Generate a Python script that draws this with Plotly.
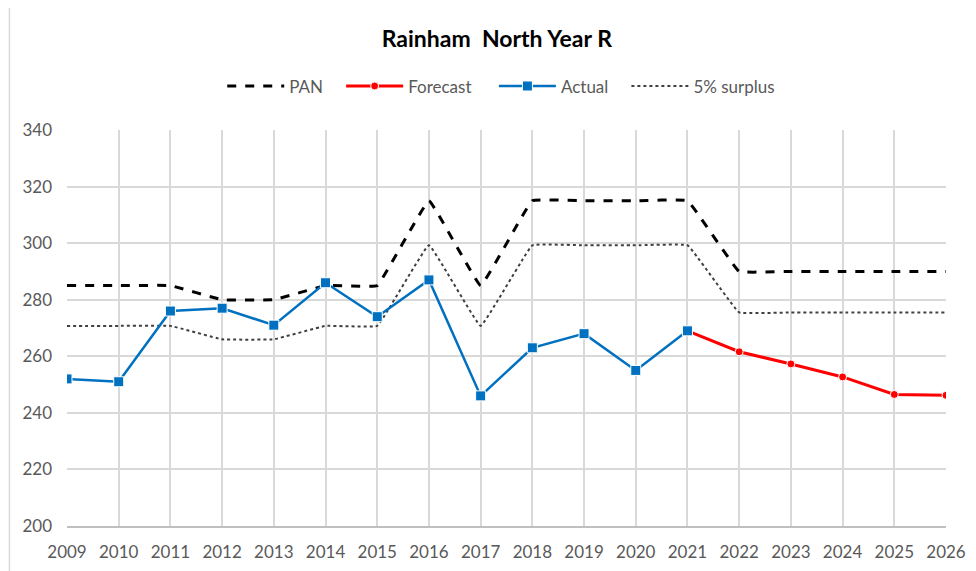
import plotly.graph_objects as go

years = list(range(2009, 2027))
pan = [285, 285, 285, 280, 280, 285, 285, 315, 285, 315, 315, 315, 315, 290, 290, 290, 290, 290]
surplus = [270.75, 270.75, 270.75, 266, 266, 270.75, 270.75, 299.25, 270.75, 299.25, 299.25, 299.25, 299.25,
           275.5, 275.5, 275.5, 275.5, 275.5]
actual_years = list(range(2009, 2022))
actual = [252, 251, 276, 277, 271, 286, 274, 287, 246, 263, 268, 255, 269]
forecast_years = [2021, 2022, 2023, 2024, 2025, 2026]
forecast = [269, 261.6, 257.3, 252.7, 246.5, 246.2]

FONT = "Lato"
GRAY = "#595959"
fig = go.Figure()
fig.add_trace(go.Scatter(x=years, y=surplus, name="5% surplus", mode="lines", legendrank=4,
                         line=dict(color="#404040", width=2, dash="dot", shape="spline", smoothing=0.2)))
fig.add_trace(go.Scatter(x=years, y=pan, name="PAN\u00a0\u00a0\u00a0", mode="lines", legendrank=1,
                         line=dict(color="black", width=3, dash="dash", shape="spline", smoothing=0.2)))
fig.add_trace(go.Scatter(x=forecast_years, y=forecast, name="Forecast\u00a0\u00a0\u00a0\u00a0", mode="lines+markers",
                         legendrank=2, line=dict(color="#FF0000", width=3),
                         marker=dict(symbol="circle", size=8, color="#FF0000", line=dict(color="white", width=1))))
fig.add_trace(go.Scatter(x=actual_years, y=actual, name="Actual\u00a0\u00a0\u00a0", mode="lines+markers",
                         legendrank=3, line=dict(color="#0070C0", width=2.5),
                         marker=dict(symbol="square", size=10, color="#0070C0", line=dict(color="white", width=1))))

fig.update_layout(
    width=968, height=563,
    margin=dict(l=59, r=30, t=122, b=45),
    paper_bgcolor="white", plot_bgcolor="white",
    font=dict(family=FONT, size=17, color=GRAY),
    title=dict(text="<b>Rainham  North Year R</b>", x=0.505, xanchor="center", y=0.945, yanchor="middle",
               font=dict(family=FONT, size=23, color="black")),
    legend=dict(orientation="h", x=0.494, xanchor="center", y=1.11, yanchor="middle",
                font=dict(family=FONT, size=17, color=GRAY), itemwidth=57, traceorder="normal"),
    showlegend=True,
    shapes=[dict(type="line", xref="paper", yref="paper", x0=-0.0655, x1=-0.0655, y0=-0.2, y1=1.4,
                 line=dict(color="#d9d9d9", width=1.5))],
)
fig.update_xaxes(range=[2009, 2026], tickvals=years, ticktext=[str(y) for y in years],
                 showgrid=True, gridcolor="#d9d9d9", gridwidth=1.5, showline=True, linecolor="#bfbfbf",
                 linewidth=1.5, ticks="", tickfont=dict(size=17, color=GRAY), zeroline=False,
                 ticklabelstandoff=10, automargin=False)
fig.update_yaxes(range=[200, 340], tickvals=[200, 220, 240, 260, 280, 300, 320, 340],
                 showgrid=True, gridcolor="#d9d9d9", gridwidth=1.5, showline=False, ticks="",
                 tickfont=dict(size=17, color=GRAY), zeroline=False, ticklabelstandoff=14, automargin=False)

fig.write_html("out.html")
